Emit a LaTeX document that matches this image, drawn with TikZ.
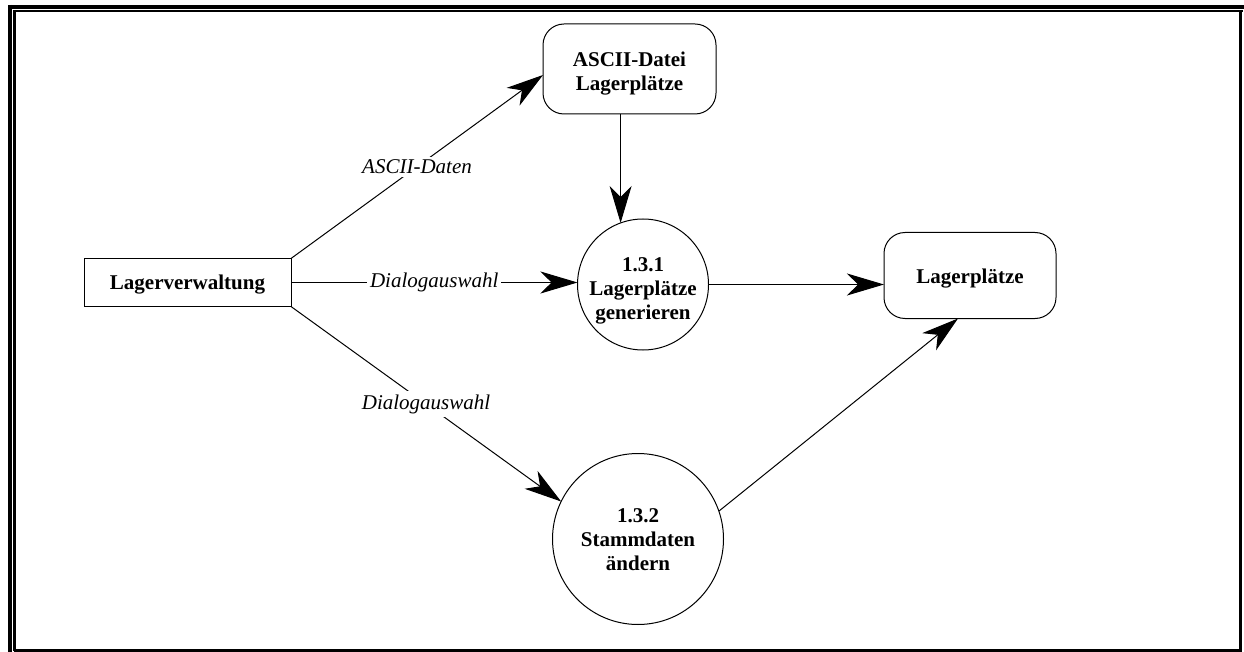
\documentclass[tikz,border=0pt]{standalone}
\usepackage{fontspec}
\setmainfont{Liberation Serif}
\usetikzlibrary{arrows.meta,calc}

\begin{document}
\begin{tikzpicture}[x=1pt,y=-1pt,
  every node/.style={inner sep=0pt, outer sep=0pt},
  flow/.style={line width=1pt, -{Stealth[length=37pt,width=22pt,inset=11pt]}},
  term/.style={draw, line width=1pt},
  store/.style={term, rounded corners=21pt},
  proc/.style={term, circle},
  nodetext/.style={font=\bfseries\fontsize{21}{24}\selectfont, align=center},
  flowlabel/.style={fill=white, inner sep=3pt, font=\itshape\fontsize{21}{24}\selectfont}
]
\useasboundingbox (0,0) rectangle (1244,652);

% frame: double rule on top and left, single rule on right and bottom
\draw[line width=4pt] (8,7) -- (1244,7);
\draw[line width=3.8pt] (10,5) -- (10,652);
\draw[line width=2.2pt] (13.5,11) -- (1243,11);
\draw[line width=2.2pt] (14.5,10) -- (14.5,651);
\draw[line width=3pt] (1240.5,10) -- (1240.5,652);
\draw[line width=3pt] (13.5,650.5) -- (1242,650.5);

% terminators, stores and processes
\node[term, minimum width=207pt, minimum height=48pt] (lv) at (187.5,282.5) {};
\node[store, minimum width=173pt, minimum height=90pt] (ascii) at (629.5,69) {};
\node[store, minimum width=172pt, minimum height=86pt] (lp) at (970,275.5) {};
\node[proc, minimum size=131pt] (c1) at (643,284.5) {};
\node[proc, minimum size=171pt] (c2) at (638,539) {};

% their texts, set a little below the centres
\node[nodetext] (lvt) at ($(lv)+(0,2)$) {Lagerverwaltung};
\node[nodetext] (asciit) at ($(ascii)+(0,5)$) {ASCII-Datei\\Lagerplätze};
\node[nodetext] (lpt) at ($(lp)+(0,3)$) {Lagerplätze};
\node[nodetext] (c1t) at ($(c1)+(0,6)$) {1.3.1\\Lagerplätze\\generieren};
\node[nodetext] (c2t) at ($(c2)+(0,1)$) {1.3.2\\Stammdaten\\ändern};

% data flows
\draw[flow] (lv.north east) -- node[flowlabel] (l1) {ASCII-Daten} ($(ascii.west)+(0,6)$);
\draw[flow] (lv.east) -- node[flowlabel] (l2) {Dialogauswahl} (lv.east -| c1.west);
\draw[flow] (lv.south east) -- node[flowlabel] (l3) {Dialogauswahl} (c2.154);
\draw[flow] (ascii.south -| c1.110) -- (c1.110);
\draw[flow] (c1.east) -- (c1.east -| lp.west);
\draw[flow] (c2.19.5) -- ($(lp.south)+(-12,0)$);
\end{tikzpicture}
\end{document}
